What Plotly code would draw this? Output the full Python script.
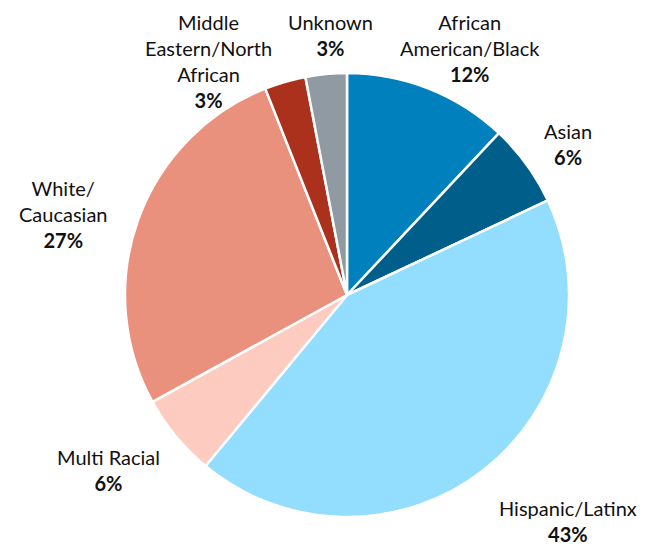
import plotly.graph_objects as go

# Enrollment share by race/ethnicity, clockwise from 12 o'clock
categories = ["African American/Black", "Asian", "Hispanic/Latinx", "Multi Racial",
              "White/Caucasian", "Middle Eastern/North African", "Unknown"]
shares = [12, 6, 43, 6, 27, 3, 3]

# Wrapped label text shown next to each slice
label_lines = ["African<br>American/Black", "Asian", "Hispanic/Latinx", "Multi Racial",
               "White/<br>Caucasian", "Middle<br>Eastern/North<br>African", "Unknown"]

colors = ["#0080BC", "#005E8A", "#93DDFE", "#FECBC1", "#EA917D", "#AC311C", "#8F9AA2"]

W, H = 651, 550
# Label block centres in pixels (x, y)
label_pos = [(470, 48), (568, 144), (568, 521), (108, 470),
             (63, 214), (208, 61), (331, 35)]

fig = go.Figure(go.Pie(
    labels=categories,
    values=shares,
    sort=False,
    direction="clockwise",
    rotation=0,
    marker=dict(colors=colors, line=dict(color="white", width=2.5)),
    textinfo="none",
    hoverinfo="label+percent",
    domain=dict(x=[125 / W, 569 / W], y=[1 - 517 / H, 1 - 73 / H]),
    showlegend=False,
))

for text, v, (px, py) in zip(label_lines, shares, label_pos):
    fig.add_annotation(
        x=px / W, y=1 - py / H, xref="paper", yref="paper",
        text=f"{text}<br><b>{v}%</b>",
        showarrow=False, align="center",
        xanchor="center", yanchor="middle",
        font=dict(family="Lato, DejaVu Sans, sans-serif", size=20, color="#111111"),
    )

fig.update_layout(
    width=W, height=H,
    margin=dict(l=0, r=0, t=0, b=0),
    paper_bgcolor="white", plot_bgcolor="white",
)

fig.write_html("out.html")
